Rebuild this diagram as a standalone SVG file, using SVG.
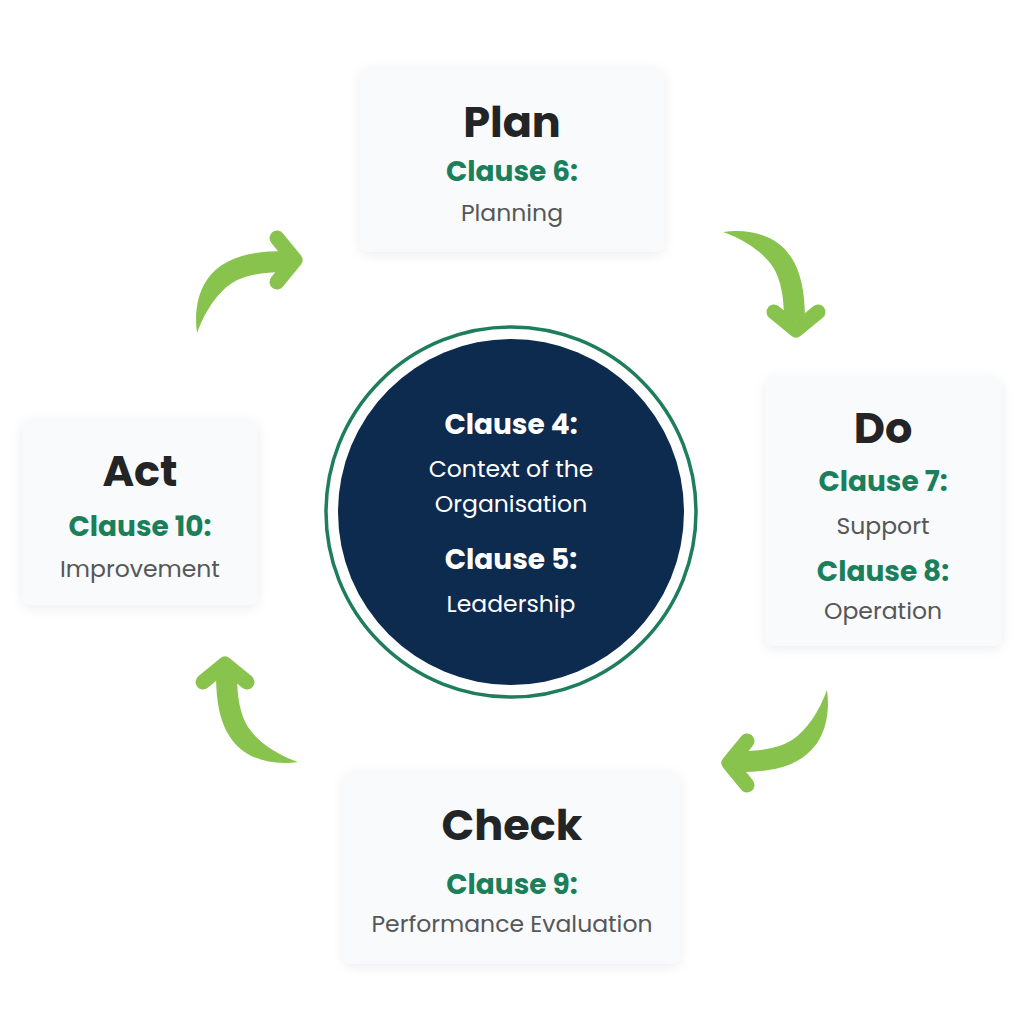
<svg xmlns="http://www.w3.org/2000/svg" width="1024" height="1024" viewBox="0 0 1024 1024">
  <defs>
    <filter id="shadow" x="-20%" y="-20%" width="140%" height="140%">
      <feDropShadow dx="0" dy="3" stdDeviation="6" flood-color="#000000" flood-opacity="0.07"/>
    </filter>
    <g id="arrow">
      <path d="M0,0 C-4,-30 5,-55 25,-68 C40,-78 60,-82 88,-82 L88,-61 C65,-61 48,-58 35,-50 C20,-40 8,-22 0,0 Z"/>
      <polyline points="80,-95 98,-73 80,-51" fill="none" stroke="#88c34e" stroke-width="15" stroke-linecap="round" stroke-linejoin="round"/>
    </g>
  </defs>
  <style>
    .box { fill: #f9fafb; filter: url(#shadow); }
    text { font-family: "Poppins", "Noto Sans", "Open Sans", sans-serif; text-anchor: middle; }
    .title { font-size: 43px; font-weight: 700; fill: #222426; }
    .clause { font-size: 28px; font-weight: 700; fill: #1a7f5a; }
    .desc { font-size: 23.5px; font-weight: 400; fill: #555759; }
    .cclause { font-size: 28px; font-weight: 700; fill: #ffffff; }
    .cdesc { font-size: 23.5px; font-weight: 400; fill: #ffffff; }
    .arrows { fill: #88c34e; }
  </style>
  <rect width="1024" height="1024" fill="#ffffff"/>

  <g id="connectors" class="arrows">
    <use href="#arrow" transform="translate(197,333)"/>
    <use href="#arrow" transform="translate(723,232) rotate(90)"/>
    <use href="#arrow" transform="translate(827,690) rotate(180)"/>
    <use href="#arrow" transform="translate(298,762) rotate(270)"/>
  </g>

  <g id="center">
    <circle cx="511" cy="512" r="185" fill="none" stroke="#1e7d5a" stroke-width="3.5"/>
    <circle cx="511" cy="512" r="173" fill="#0d2a4f"/>
    <text class="cclause" x="511" y="434">Clause 4:</text>
    <text class="cdesc" x="511" y="477">Context of the</text>
    <text class="cdesc" x="511" y="512">Organisation</text>
    <text class="cclause" x="511" y="569">Clause 5:</text>
    <text class="cdesc" x="511" y="612">Leadership</text>
  </g>

  <g id="plan">
    <rect class="box" x="360" y="67" width="304" height="185" rx="9"/>
    <text class="title" x="512" y="137">Plan</text>
    <text class="clause" x="512" y="181">Clause 6:</text>
    <text class="desc" x="512" y="221">Planning</text>
  </g>

  <g id="do">
    <rect class="box" x="765" y="376" width="237" height="270" rx="9"/>
    <text class="title" x="883" y="443">Do</text>
    <text class="clause" x="883" y="491">Clause 7:</text>
    <text class="desc" x="883" y="534">Support</text>
    <text class="clause" x="883" y="581">Clause 8:</text>
    <text class="desc" x="883" y="619">Operation</text>
  </g>

  <g id="check">
    <rect class="box" x="343" y="771" width="337" height="193" rx="9"/>
    <text class="title" x="512" y="840">Check</text>
    <text class="clause" x="512" y="894">Clause 9:</text>
    <text class="desc" x="512" y="932">Performance Evaluation</text>
  </g>

  <g id="act">
    <rect class="box" x="22" y="419" width="236" height="186" rx="9"/>
    <text class="title" x="140" y="486">Act</text>
    <text class="clause" x="140" y="536">Clause 10:</text>
    <text class="desc" x="140" y="577">Improvement</text>
  </g>
</svg>
